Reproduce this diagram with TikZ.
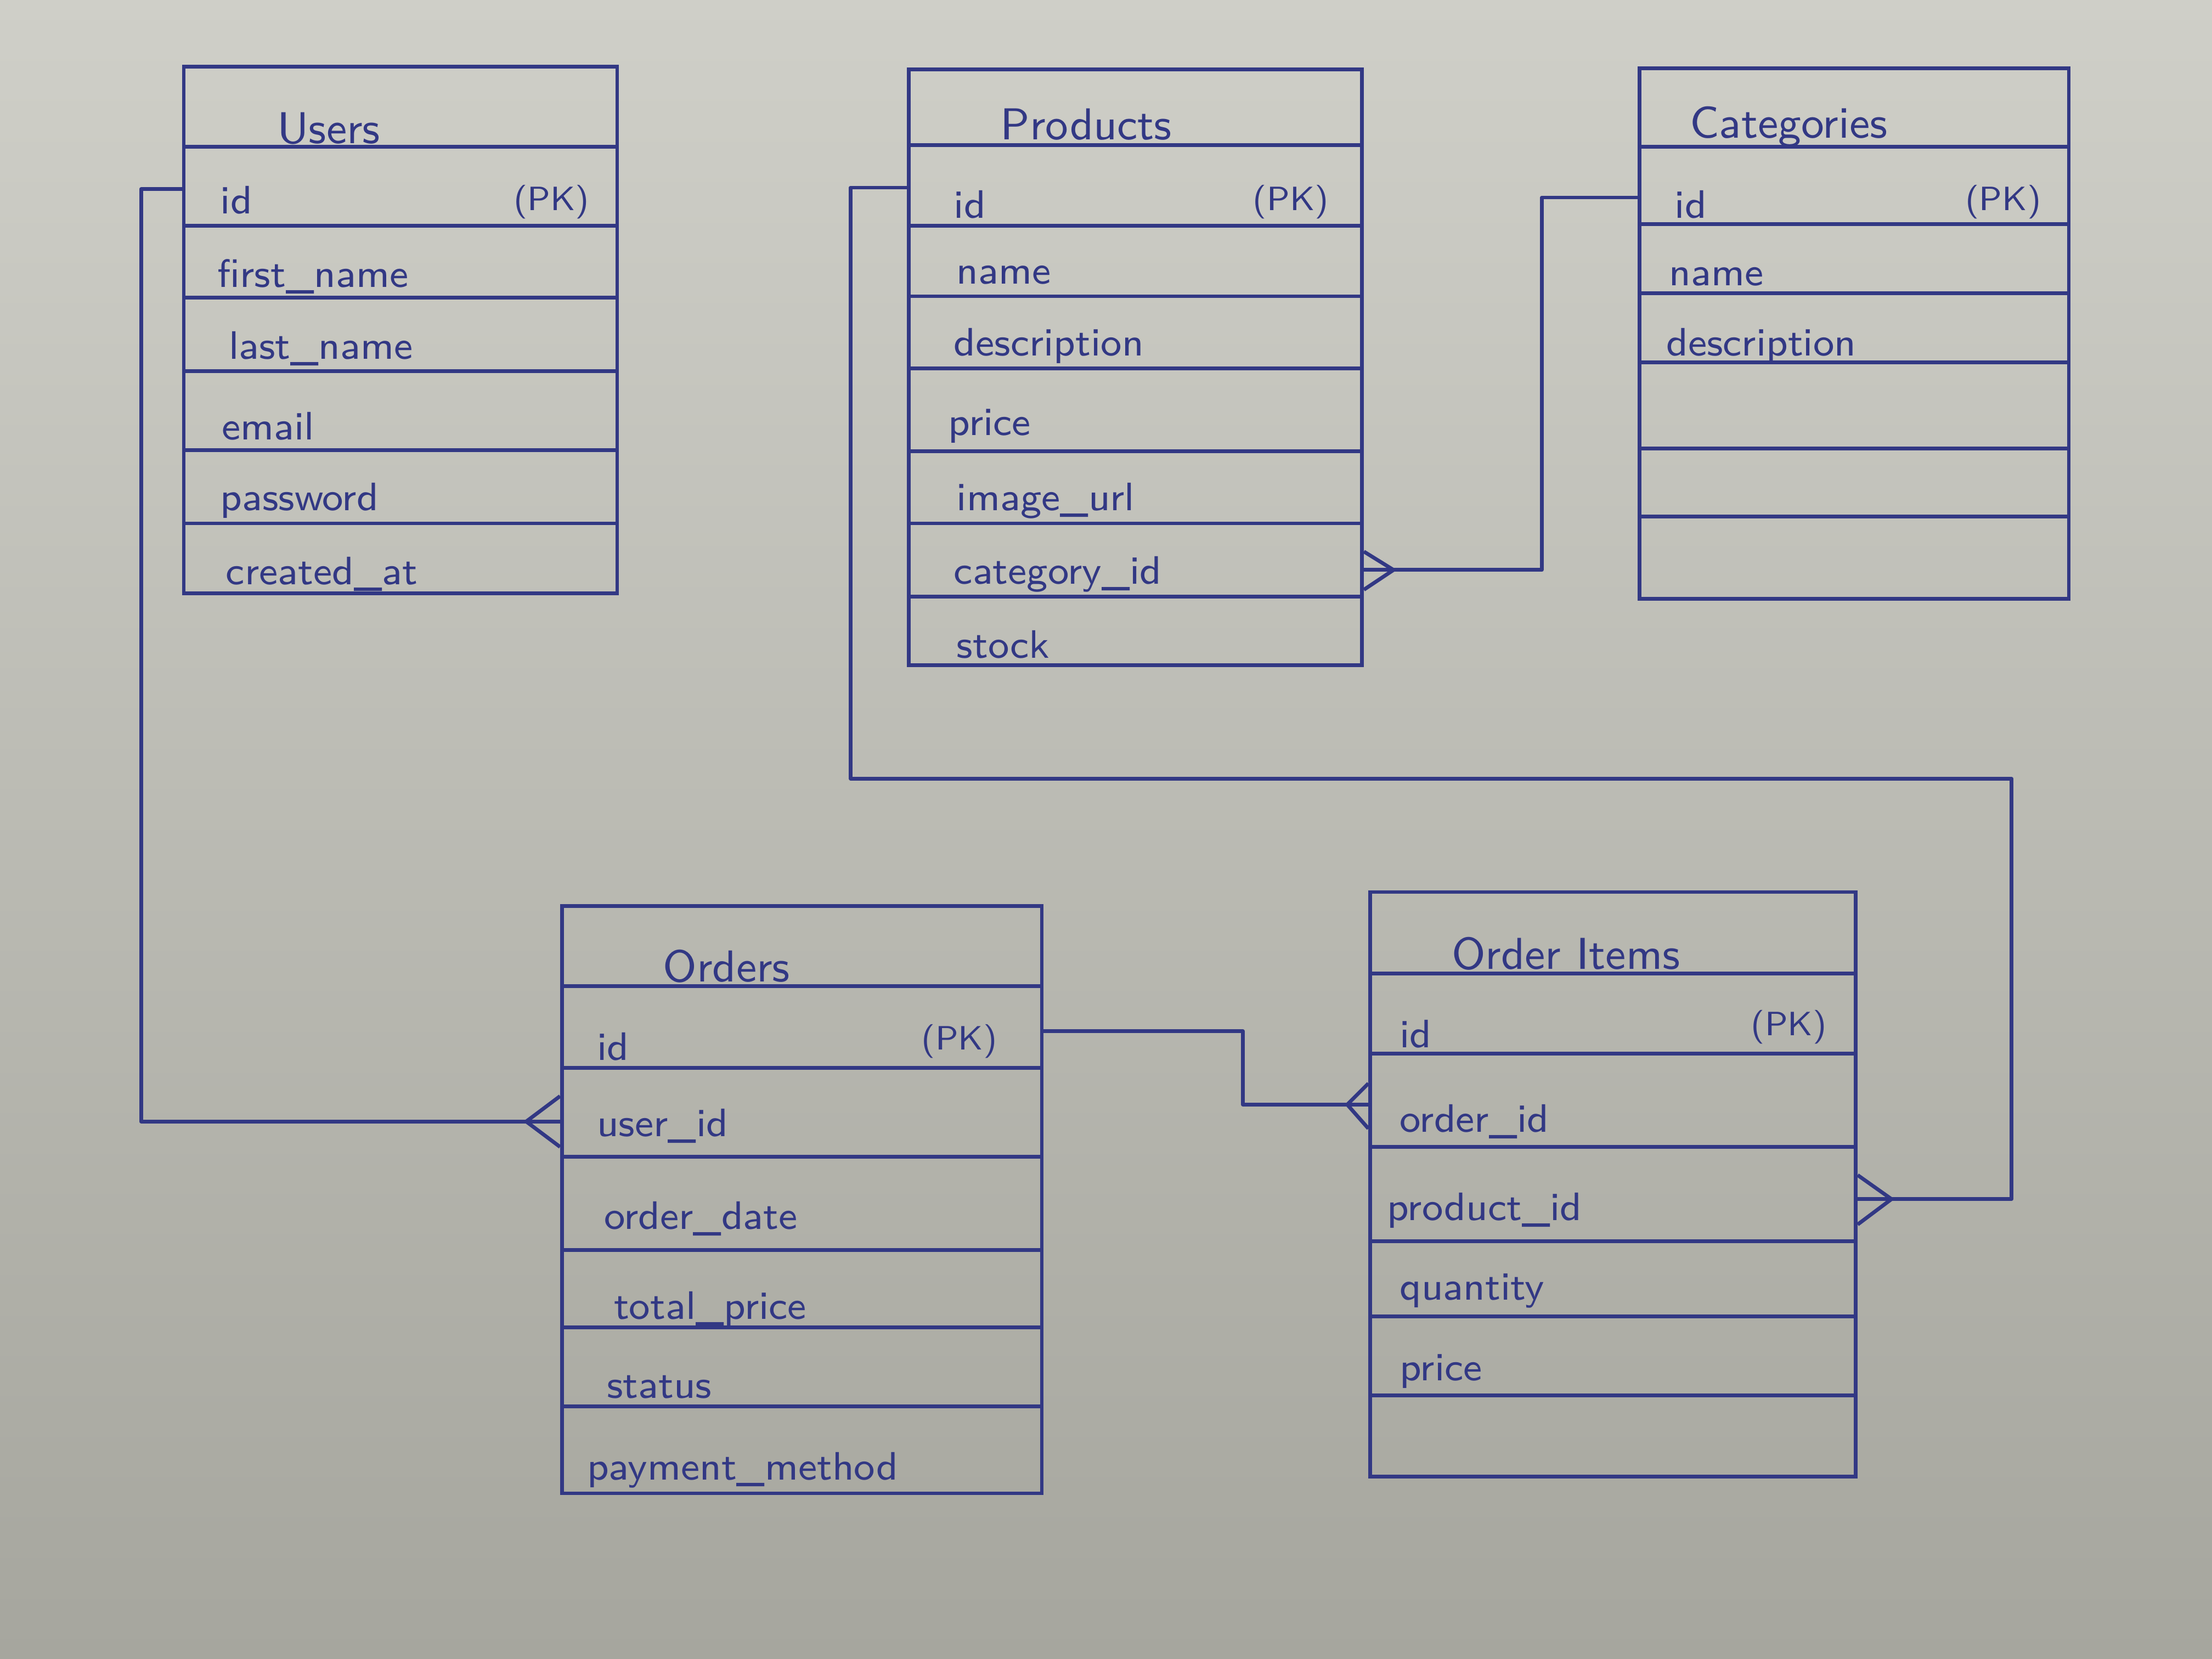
\documentclass[tikz,border=0pt]{standalone}
\usetikzlibrary{calc}
\definecolor{pen}{RGB}{50,56,132}
\definecolor{papertop}{RGB}{207,207,200}
\definecolor{paperbot}{RGB}{166,166,158}
\begin{document}
\begin{tikzpicture}[x=0.01cm,y=-0.01cm,
  tbl/.style={draw=pen, line width=0.75pt, inner sep=0pt, anchor=north west},
  sep/.style={draw=pen, line width=0.75pt},
  fld/.style={text=pen, anchor=west, font=\sffamily\fontsize{8}{10}\selectfont, inner sep=1pt},
  ttl/.style={text=pen, font=\sffamily\fontsize{9}{11}\selectfont, inner sep=1pt},
  pk/.style={text=pen, font=\sffamily\fontsize{6.8}{8}\selectfont, inner sep=1pt},
  conn/.style={draw=pen, line width=0.75pt, line join=round},
  crow/.style={draw=pen, line width=0.75pt, line join=round}]
\useasboundingbox (0,0) rectangle (1568,1176);
\shade[top color=papertop, bottom color=paperbot] (0,0) rectangle (1568,1176);

% ---------- tables ----------
\node[tbl, minimum width=3.07cm, minimum height=3.73cm] (users) at (129,46) {};
\foreach \yy in {104,160,211,263,319,371}
  \draw[sep] (users.west |- 0,\yy) -- (users.east |- 0,\yy);

\node[tbl, minimum width=3.21cm, minimum height=4.22cm] (products) at (643,48) {};
\foreach \yy in {103,160,210,261,320,371,423}
  \draw[sep] (products.west |- 0,\yy) -- (products.east |- 0,\yy);

\node[tbl, minimum width=3.04cm, minimum height=3.76cm] (categories) at (1161,47) {};
\foreach \yy in {104,159,208,257,318,366}
  \draw[sep] (categories.west |- 0,\yy) -- (categories.east |- 0,\yy);

\node[tbl, minimum width=3.40cm, minimum height=4.16cm] (orders) at (397,641) {};
\foreach \yy in {699,757,820,886,941,997}
  \draw[sep] (orders.west |- 0,\yy) -- (orders.east |- 0,\yy);

\node[tbl, minimum width=3.44cm, minimum height=4.14cm] (orderitems) at (970,631) {};
\foreach \yy in {690,747,813,880,933,989}
  \draw[sep] (orderitems.west |- 0,\yy) -- (orderitems.east |- 0,\yy);

% ---------- texts: Users ----------
\node[ttl] (users-t) at (233,91) {Users};
\node[fld] (users-id) at (152,142) {id};
\node[pk] (users-pk) at (391,143) {(PK)};
\node[fld] (users-fn) at (150,196) {first\_name};
\node[fld] (users-ln) at (158,247) {last\_name};
\node[fld] (users-em) at (153,302) {email};
\node[fld] (users-pw) at (152,355) {password};
\node[fld] (users-ca) at (156,407) {created\_at};

% ---------- texts: Products ----------
\node[ttl] (prod-t) at (770,88) {Products};
\node[fld] (prod-id) at (672,145) {id};
\node[pk] (prod-pk) at (915,143) {(PK)};
\node[fld] (prod-nm) at (674,195) {name};
\node[fld] (prod-de) at (672,245) {description};
\node[fld] (prod-pr) at (668,302) {price};
\node[fld] (prod-iu) at (674,355) {image\_url};
\node[fld] (prod-ci) at (672,407) {category\_id};
\node[fld] (prod-st) at (674,457) {stock};

% ---------- texts: Categories ----------
\node[ttl] (cat-t) at (1268,90) {Categories};
\node[fld] (cat-id) at (1183,145) {id};
\node[pk] (cat-pk) at (1420,143) {(PK)};
\node[fld] (cat-nm) at (1179,196) {name};
\node[fld] (cat-de) at (1177,245) {description};

% ---------- texts: Orders ----------
\node[ttl] (ord-t) at (515,685) {Orders};
\node[fld] (ord-id) at (419,742) {id};
\node[pk] (ord-pk) at (680,738) {(PK)};
\node[fld] (ord-ui) at (419,798) {user\_id};
\node[fld] (ord-od) at (424,864) {order\_date};
\node[fld] (ord-tp) at (431,928) {total\_price};
\node[fld] (ord-st) at (426,983) {status};
\node[fld] (ord-pm) at (412,1042) {payment\_method};

% ---------- texts: OrderItems ----------
\node[ttl] (oi-t) at (1110,676) {Order Items};
\node[fld] (oi-id) at (988,733) {id};
\node[pk] (oi-pk) at (1268,728) {(PK)};
\node[fld] (oi-oi) at (988,795) {order\_id};
\node[fld] (oi-pi) at (979,858) {product\_id};
\node[fld] (oi-qt) at (988,915) {quantity};
\node[fld] (oi-pr) at (988,972) {price};

% ---------- attachment points ----------
\coordinate (u-id)   at (users.west |- 0,134);
\coordinate (o-uid)  at (orders.west |- 0,795);
\coordinate (p-id)   at (products.west |- 0,133);
\coordinate (oi-pid) at (orderitems.east |- 0,850);
\coordinate (o-id)   at (orders.east |- 0,731);
\coordinate (oi-oid) at (orderitems.west |- 0,783);
\coordinate (c-id)   at (categories.west |- 0,140);
\coordinate (p-cid)  at (products.east |- 0,404);

% ---------- connectors ----------
% Users.id -> Orders.user_id
\draw[conn] (u-id) -- ++(-29,0) |- (o-uid);
\draw[crow] ($(o-uid)+(0,-18)$) -- ($(o-uid)+(-24,0)$) -- ($(o-uid)+(0,18)$);

% Products.id -> OrderItems.product_id
\draw[conn] (p-id) -- ++(-40,0) |- (1426,552) |- (oi-pid);
\draw[crow] ($(oi-pid)+(0,-17)$) -- ($(oi-pid)+(24,0)$) -- ($(oi-pid)+(0,18)$);

% Orders.id -> OrderItems.order_id
\draw[conn] (o-id) -- (881,731) |- (oi-oid);
\draw[crow] ($(oi-oid)+(0,-15)$) -- ($(oi-oid)+(-15,0)$) -- ($(oi-oid)+(0,17)$);

% Categories.id -> Products.category_id
\draw[conn] (c-id) -- ++(-68,0) |- (p-cid);
\draw[crow] ($(p-cid)+(0,-13)$) -- ($(p-cid)+(21,0)$) -- ($(p-cid)+(0,14)$);
\end{tikzpicture}
\end{document}
